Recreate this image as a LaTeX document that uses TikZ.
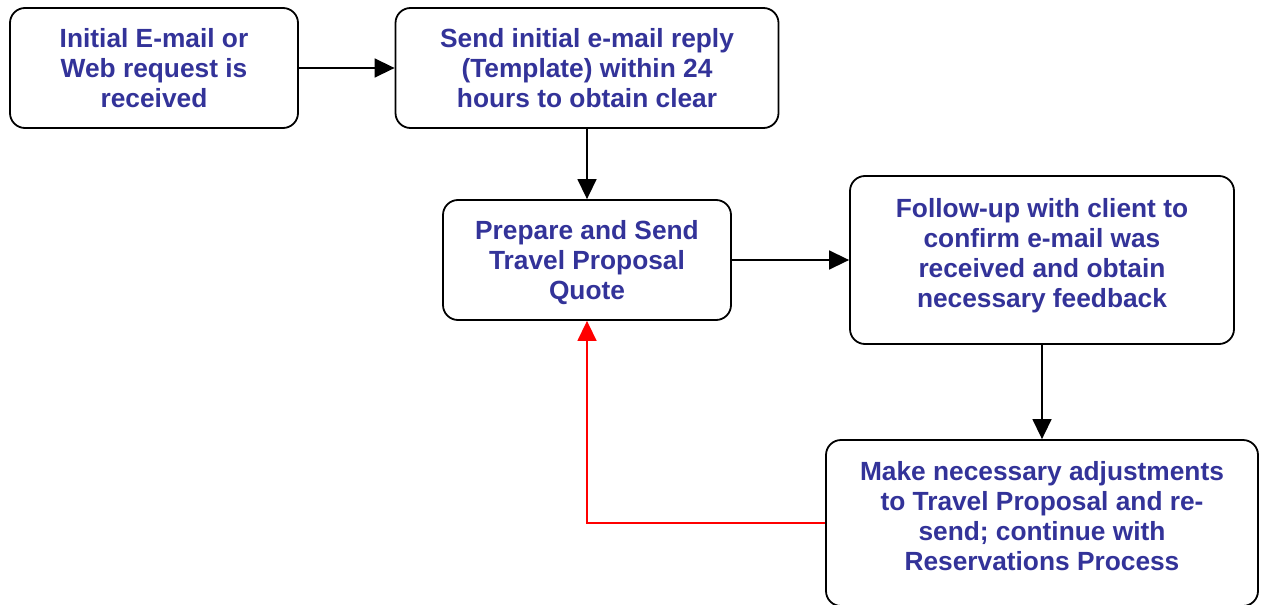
\documentclass[tikz,border=0pt]{standalone}
\usepackage{fontspec}
\setmainfont{Liberation Sans}
\usetikzlibrary{arrows.meta}
\definecolor{txtblue}{HTML}{333399}
\begin{document}
\begin{tikzpicture}[x=1pt,y=-1pt,
  box/.style={draw=black, line width=1.8pt, rounded corners=15pt, fill=white, inner sep=0pt},
  lbl/.style={text=txtblue, font=\fontsize{26.3}{30}\selectfont\bfseries, align=center, inner sep=0pt},
  flow/.style={line width=1.5pt, -{Triangle[length=20pt,width=19pt]}},
]
\useasboundingbox (0,0) rectangle (1264,605);

% process boxes
\node[box, minimum width=288pt, minimum height=120pt] (A) at (154,68) {};
\node[box, minimum width=383pt, minimum height=120pt] (B) at (587,68) {};
\node[box, minimum width=288pt, minimum height=120pt] (C) at (587,260) {};
\node[box, minimum width=384pt, minimum height=168pt] (D) at (1042,260) {};
\node[box, minimum width=432pt, minimum height=166pt] (E) at (1042,523) {};

% box texts
\node[lbl] (tA) at (A.center) {Initial E-mail or\\Web request is\\received};
\node[lbl] (tB) at (B.center) {Send initial e-mail reply\\(Template) within 24\\hours to obtain clear};
\node[lbl, yshift=-2.5pt] (tC) at (C.center) {Prepare and Send\\Travel Proposal\\Quote};
\node[lbl, yshift=4pt] (tD) at (D.center) {Follow-up with client to\\confirm e-mail was\\received and obtain\\necessary feedback};
\node[lbl, yshift=7pt] (tE) at (E.center) {Make necessary adjustments\\to Travel Proposal and re-\\send; continue with\\Reservations Process};

% connectors
\draw[flow] (A.east) -- (B.west);
\draw[flow] (B.south) -- (C.north);
\draw[flow] (C.east) -- (D.west);
\draw[flow] (D.south) -- (E.north);
\draw[flow, red] (E.west) -| (C.south);
\end{tikzpicture}
\end{document}
